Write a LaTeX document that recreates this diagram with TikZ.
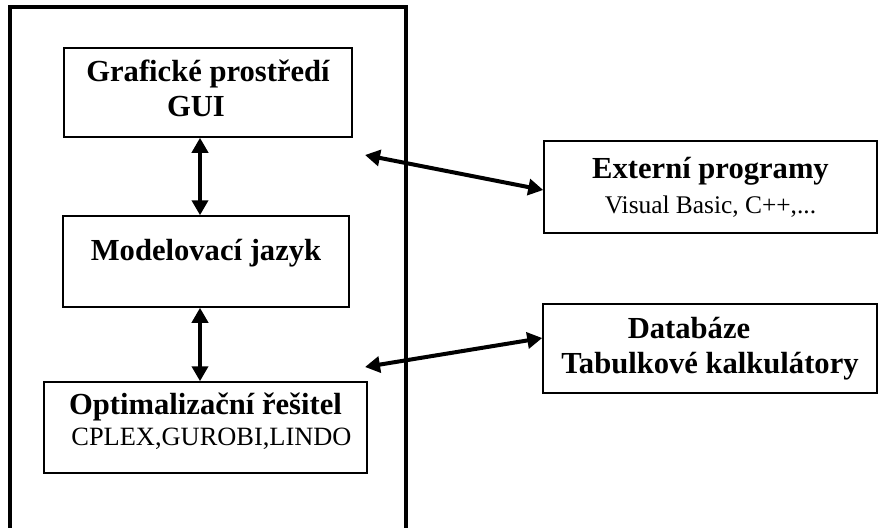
\documentclass[tikz,border=0pt]{standalone}
\usepackage{fontspec}
\setmainfont{Liberation Serif}
\usetikzlibrary{arrows.meta}

\begin{document}
\begin{tikzpicture}[x=0.5pt,y=-0.5pt,
  box/.style={draw, line width=0.75pt, inner sep=0pt, align=center, font=\bfseries\fontsize{15.3}{17.5}\selectfont},
  link/.style={{Triangle[length=7.5pt,width=8pt]}-{Triangle[length=7.5pt,width=8pt]}, line width=2pt}]
\useasboundingbox (0,0) rectangle (878,527);
\draw[line width=2pt] (10,540) -- (10,7) -- (406,7) -- (406,540);
\node[box, minimum width=144pt, minimum height=44.5pt, text depth=4pt] (gui) at (208,92.5) {Grafické prostředí\\GUI\hspace*{12pt}};
\node[box, minimum width=143pt, minimum height=45.5pt, text depth=11.5pt] (model) at (206,261.5) {Modelovací jazyk};
\node[box, minimum width=161.5pt, minimum height=45.5pt, text depth=8pt] (solver) at (205.5,427.5) {Optimalizační řešitel\\[-2pt]\mdseries\fontsize{13.2}{16}\selectfont\hspace*{6pt}CPLEX,GUROBI,LINDO};
\node[box, minimum width=166.5pt, minimum height=46pt] (ext) at (710.5,187) {Externí programy\\\mdseries\fontsize{12.7}{16}\selectfont Visual Basic, C++,...};
\node[box, minimum width=167pt, minimum height=44.5pt] (db) at (710,348.5) {Databáze\hspace*{21pt}\\Tabulkové kalkulátory};
\coordinate (extin) at (365,155);
\coordinate (dbin) at (365,367);
\draw[link] ([xshift=-4pt]gui.south) -- ([xshift=-4pt]gui.south |- model.north);
\draw[link] ([xshift=-3pt]model.south) -- ([xshift=-3pt]model.south |- solver.north);
\draw[link] (extin) -- ([yshift=-1.5pt]ext.west);
\draw[link] (dbin) -- ([yshift=5.25pt]db.west);
\end{tikzpicture}
\end{document}
